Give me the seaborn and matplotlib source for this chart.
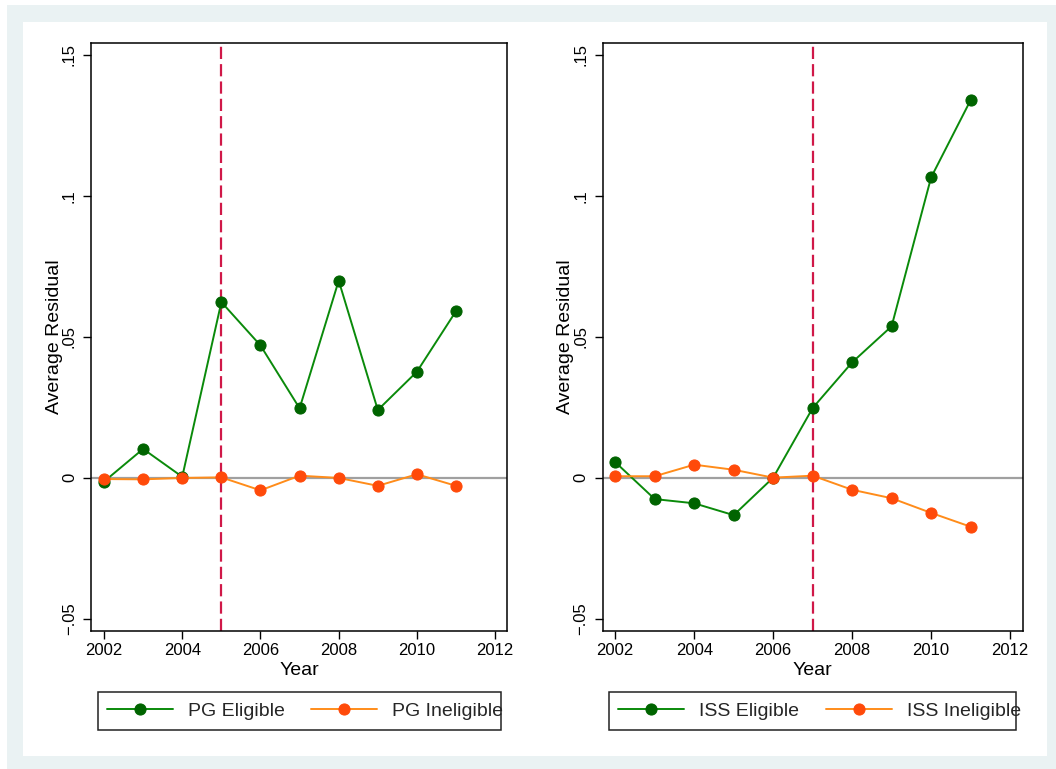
import matplotlib
matplotlib.use("Agg")
import matplotlib.pyplot as plt
from matplotlib.patches import Rectangle
import pandas as pd
import seaborn as sns

# ---- data -------------------------------------------------------------
years = [2002, 2003, 2004, 2005, 2006, 2007, 2008, 2009, 2010, 2011]

pg_eligible = [-0.0014, 0.0102, 0.0003, 0.0623, 0.0469, 0.0246, 0.0699, 0.0240, 0.0376, 0.0591]
pg_ineligible = [-0.0005, -0.0006, -0.0001, 0.0001, -0.0045, 0.0007, -0.0001, -0.0029, 0.0012, -0.0029]

iss_eligible = [0.0055, -0.0076, -0.0091, -0.0133, 0.0000, 0.0247, 0.0409, 0.0537, 0.1065, 0.1339]
iss_ineligible = [0.0005, 0.0005, 0.0046, 0.0028, 0.0000, 0.0007, -0.0043, -0.0073, -0.0125, -0.0174]

pg_labels = ["PG Eligible", "PG Ineligible"]
iss_labels = ["ISS Eligible", "ISS Ineligible"]
policy_years = [2005, 2007]

x_ticks = [2002, 2004, 2006, 2008, 2010, 2012]
y_ticks = [-0.05, 0.0, 0.05, 0.10, 0.15]
y_tick_labels = ["\u2212.05", "0", ".05", ".1", ".15"]

# ---- style --------------------------------------------------------------
sns.set_theme(style="white")
plt.rcParams["font.family"] = ["Liberation Sans", "DejaVu Sans"]

W, H = 1056, 769
fig = plt.figure(figsize=(W / 100, H / 100), dpi=100, facecolor="white")


def fx(px):
    return px / W


def fy(py):
    return 1 - py / H


# graph region background (outer tint, inner white plot region)
fig.patches.append(Rectangle((fx(7), 0), fx(W - 7), 1 - 5 / H, transform=fig.transFigure,
                             facecolor="#EAF2F3", edgecolor="none", zorder=-10))
fig.patches.append(Rectangle((fx(23), fy(756)), fx(1047 - 23), (756 - 22) / H,
                             transform=fig.transFigure, facecolor="white",
                             edgecolor="none", zorder=-9))

ELIG_LINE = "#0A8A0A"
ELIG_MARK = "#006400"
INEL_LINE = "#FF8C1A"
INEL_MARK = "#FF4A0A"
POLICY = "#D01848"

panels = [
    dict(left=91.3, right=507.3, xlim=(2001.675, 2012.31), elig=pg_eligible,
         inel=pg_ineligible, labels=pg_labels, policy=policy_years[0],
         legend_box=(98, 500.7), handle_x=106.7),
    dict(left=603.0, right=1022.7, xlim=(2001.69, 2012.32), elig=iss_eligible,
         inel=iss_ineligible, labels=iss_labels, policy=policy_years[1],
         legend_box=(609, 1016), handle_x=618.3),
]

top_px, bottom_px = 42.7, 631.0

for p in panels:
    ax = fig.add_axes([fx(p["left"]), fy(bottom_px), fx(p["right"] - p["left"]),
                       (bottom_px - top_px) / H])
    ax.set_facecolor("white")

    df = pd.DataFrame({"Year": years, "elig": p["elig"], "inel": p["inel"]})

    ax.axhline(0, color="#A0A0A0", lw=1.6, zorder=1)
    ax.axvline(p["policy"], color=POLICY, lw=1.6, dashes=(5.5, 2.3), zorder=2)

    sns.lineplot(data=df, x="Year", y="elig", ax=ax, color=ELIG_LINE, lw=1.4,
                 marker="o", markersize=8, markerfacecolor=ELIG_MARK,
                 markeredgecolor=ELIG_MARK, label=p["labels"][0], zorder=3)
    sns.lineplot(data=df, x="Year", y="inel", ax=ax, color=INEL_LINE, lw=1.4,
                 marker="o", markersize=8, markerfacecolor=INEL_MARK,
                 markeredgecolor=INEL_MARK, label=p["labels"][1], zorder=4)

    ax.set_xlim(*p["xlim"])
    ax.set_ylim(-0.0544, 0.1543)
    ax.set_xticks(x_ticks)
    ax.set_xticklabels([str(t) for t in x_ticks], fontsize=12)
    ax.set_yticks(y_ticks)
    ax.set_yticklabels(y_tick_labels, rotation=90, va="center", fontsize=12)

    for s in ax.spines.values():
        s.set_color("black")
        s.set_linewidth(1.1)
    ax.tick_params(axis="both", which="major", direction="out", length=5.8, width=1.0,
                   color="black", labelcolor="black", left=True, bottom=True)
    ax.tick_params(axis="y", pad=4.5)
    ax.tick_params(axis="x", pad=2.5)

    ax.set_xlabel("Year", fontsize=14, color="black")
    ax.set_ylabel("Average Residual", fontsize=14, color="black")
    ax.xaxis.set_label_coords(0.5, -0.052)
    ax.yaxis.set_label_coords(-0.068, 0.5)

    # legend below the panel with its own square frame
    handles, labels = ax.get_legend_handles_labels()
    if ax.legend_ is not None:
        ax.legend_.remove()
    x0, x1 = p["legend_box"]
    fig.patches.append(Rectangle((fx(x0), fy(729.7)), fx(x1 - x0), (729.7 - 692.3) / H,
                                 transform=fig.transFigure, facecolor="white",
                                 edgecolor="#222222", lw=1.1, zorder=5))
    leg = fig.legend(handles, labels, loc="center left",
                     bbox_to_anchor=(fx(p["handle_x"]), fy(711)),
                     bbox_transform=fig.transFigure, ncol=2, frameon=False,
                     fontsize=14, handlelength=3.4, handletextpad=0.76,
                     columnspacing=1.37, borderpad=0, borderaxespad=0, numpoints=1)
    leg.set_zorder(6)

fig.savefig("out.png", dpi=100, facecolor="white")
